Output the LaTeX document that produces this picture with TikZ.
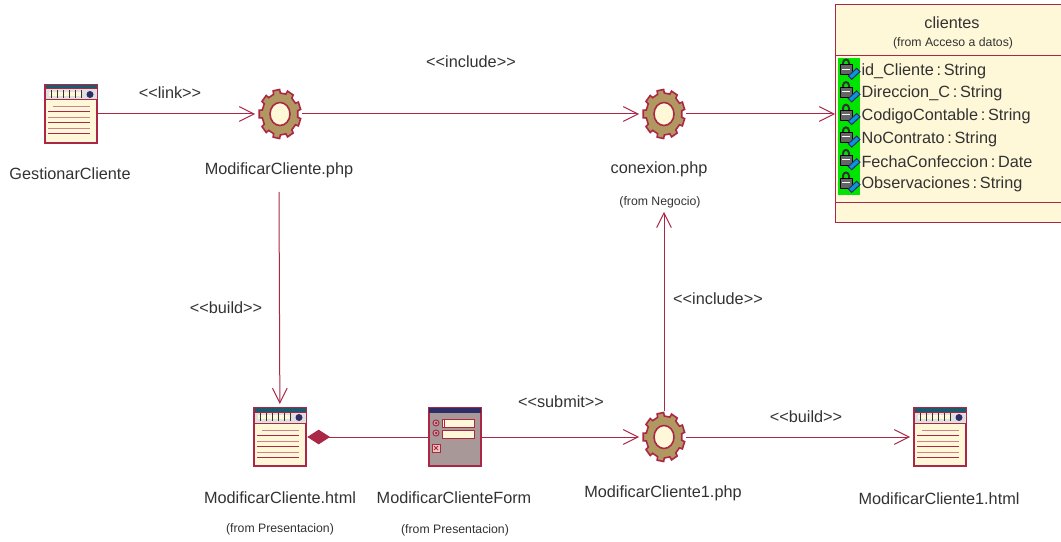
\documentclass[tikz,border=0pt]{standalone}
\usepackage{fontspec}
\setmainfont{Liberation Sans}
\usetikzlibrary{arrows.meta}
\definecolor{umlline}{RGB}{170,40,70}
\definecolor{umlfill}{RGB}{255,248,216}
\definecolor{umltext}{RGB}{50,50,50}
\definecolor{umlteal}{RGB}{30,90,110}
\definecolor{umlnavy}{RGB}{45,45,105}
\definecolor{umlgear}{RGB}{176,152,96}
\definecolor{umlform}{RGB}{168,152,152}
\definecolor{umlpink}{RGB}{205,130,140}
\tikzset{every picture/.style={line width=0.75pt}}
\tikzset{
  maintext/.style={inner sep=0.75pt,text=umltext,font=\fontsize{12.2}{14}\selectfont},
  smalltext/.style={inner sep=0.75pt,text=umltext,font=\fontsize{9.2}{11}\selectfont},
  attrtext/.style={maintext,anchor=west},
  pagebox/.style={inner sep=0pt,outer sep=1pt,minimum width=39pt,minimum height=43.5pt},
  gearbox/.style={inner sep=0pt,outer sep=1pt,minimum width=31.5pt,minimum height=36.75pt},
  conn/.style={draw=umlline},
  connarrow/.style={conn,-{Straight Barb[length=11pt,width=11pt]},shorten >=2pt},
  pics/pageicon/.style={code={
    \begin{scope}[yscale=-1]
    \draw [umlline,line width=1pt,fill=umlfill] (-26,-29) rectangle (26,29);
    \fill [umlteal] (-25.5,-29) rectangle (25.5,-25);
    \draw [umlline,fill=gray!25] (-26,-25) rectangle (26,-14);
    \fill [umlfill] (-22,-22) rectangle (11,-18);
    \foreach \t in {-20,-14,...,10} {\draw [umltext,line width=0.5pt] (\t,-24) -- (\t,-16);}
    \fill [umlnavy] (19,-19.5) circle (3.5);
    \foreach \t/\s/\c in {-7/-18/umlpink,-2/-23/umlline,4/-23/umlpink,9/-23/umlline,15/-23/umlpink,20/-23/umlline} {
      \draw [\c] (\s,\t) -- (19,\t);}
    \end{scope}
  }},
  pics/formicon/.style={code={
    \begin{scope}[yscale=-1]
    \draw [umlline,line width=1pt,fill=umlform] (-26,-29) rectangle (26,29);
    \fill [umlnavy] (-26,-29) rectangle (26,-24);
    \foreach \t in {-14,-4} {
      \draw [umlline,fill=umlform!70] (-19,\t) circle (3);
      \fill [umlline] (-19,\t) circle (1.5);}
    \draw [umlline,fill=umlfill] (-13,-18) rectangle (19,-10);
    \draw [umlline] (-11,-18) -- (-11,-10);
    \draw [umlline,fill=umlfill] (-13,-7) rectangle (19,1);
    \draw [umlline,fill=umlfill!60!umlpink] (-23,7) rectangle (-15,15);
    \draw [umlline] (-21,9) -- (-17,13) (-21,13) -- (-17,9);
    \end{scope}
  }},
  pics/gearicon/.style={code={
    \draw [umlline,line width=1.2pt,fill=umlgear] (9:18 and 21)
      \foreach \a in {0,40,...,320} {
        -- ({\a+9}:18 and 21) -- ({\a+11}:21 and 24.5) -- ({\a+29}:21 and 24.5) -- ({\a+31}:18 and 21)
      } -- cycle;
    \draw [umlline,line width=1.2pt,fill=umlfill] (0,0) ellipse (10 and 11.5);
  }},
  pics/lockicon/.style={code={
    \begin{scope}[yscale=-1]
    \fill [green!90!black] (-11,-11.5) rectangle (11,11.5);
    \draw [umltext,line width=1.5pt] (-6,-5) -- (-6,-7) arc (180:360:3 and 3.5) -- (0,-5);
    \draw [black,fill=umltext!75] (-9,-5) rectangle (3,5);
    \draw [white,line width=0.6pt] (-7,-1) -- (1,-1);
    \draw [umlnavy,fill=cyan!80!blue] (-0.7,6) -- (7.7,-1.7) -- (11,1.7) -- (2.7,9.3) -- cycle;
    \end{scope}
  }}
}
\begin{document}
\begin{tikzpicture}[x=0.75pt,y=0.75pt,yscale=-1,xscale=1]
\useasboundingbox (0,0) rectangle (1061,542);

% Icon Nodes
\node (gestionar) [pagebox] at (71,114) {};
\pic at (gestionar) {pageicon};
\node (modificarphp) [gearbox] at (280,114) {};
\pic at (modificarphp) {gearicon};
\node (conexion) [gearbox] at (664,114) {};
\pic at (conexion) {gearicon};
\node (modificarhtml) [pagebox] at (280,437) {};
\pic at (modificarhtml) {pageicon};
\node (modificarform) [pagebox] at (455,437) {};
\pic at (modificarform) {formicon};
\node (modificarunophp) [gearbox] at (664,437) {};
\pic at (modificarunophp) {gearicon};
\node (modificarunohtml) [pagebox] at (940,437) {};
\pic at (modificarunohtml) {pageicon};

% Class Box
\node (clientes) [draw=umlline,fill=umlfill,inner sep=0pt,outer sep=0pt,minimum width=172.5pt,minimum height=162.75pt,anchor=north west] at (835,5) {};
\draw [umlline] (835,56) -- (1062,56);
\draw [umlline] (835,202) -- (1062,202);
\foreach \y in {70,92.6,115.2,137.8,160.4,183} {
  \pic at (849,\y) {lockicon};
}

% Text Node
\node (gestionarlabel) [maintext] at (70,174) {GestionarCliente};
\node (modificarphplabel) [maintext] at (279,170) {ModificarCliente.php};
\node (conexionlabel) [maintext] at (659,169) {conexion.php};
\node (negociolabel) [smalltext] at (660,202) {(from Negocio)};
\node (modificarhtmllabel) [maintext] at (280,498) {ModificarCliente.html};
\node (presentaciona) [smalltext] at (280,529) {(from Presentacion)};
\node (modificarformlabel) [maintext] at (454,498) {ModificarClienteForm};
\node (presentacionb) [smalltext] at (455,530) {(from Presentacion)};
\node (modificarunophplabel) [maintext] at (663,493) {ModificarCliente1.php};
\node (modificarunohtmllabel) [maintext] at (939,499) {ModificarCliente1.html};
\node (clientesname) [maintext] at (952,23) {clientes};
\node (clientesfrom) [smalltext] at (953,43) {(from Acceso a datos)};
\node (attrid) [attrtext] at (860,71) {id\_Cliente\,:\,String};
\node (attrdir) [attrtext] at (860,93.6) {Direccion\_C\,:\,String};
\node (attrcod) [attrtext] at (860,116.2) {CodigoContable\,:\,String};
\node (attrcon) [attrtext] at (860,138.8) {NoContrato\,:\,String};
\node (attrfec) [attrtext] at (860,161.4) {FechaConfeccion\,:\,Date};
\node (attrobs) [attrtext] at (860,184) {Observaciones\,:\,String};

% Connector Labels
\node (linklabel) [maintext] at (170,93) {<{}<link>{}>};
\node (includea) [maintext] at (471,62) {<{}<include>{}>};
\node (builda) [maintext] at (226,308) {<{}<build>{}>};
\node (includeb) [maintext] at (718,299) {<{}<include>{}>};
\node (submitlabel) [maintext] at (561,402) {<{}<submit>{}>};
\node (buildb) [maintext] at (806,417) {<{}<build>{}>};

% Connectors
\draw [connarrow] (gestionar) -- (modificarphp);
\draw [connarrow] (modificarphp) -- (conexion);
\draw [connarrow,shorten >=0pt] (conexion) -- (clientes.west |- conexion);
\draw [connarrow] (modificarphplabel.south |- 0,192) -- (modificarhtml);
\draw [conn,-{Diamond[length=17pt,width=11pt]}] (modificarform) -- (modificarhtml);
\draw [connarrow] (modificarform) -- (modificarunophp);
\draw [connarrow] (modificarunophp) -- (conexion |- negociolabel.south);
\draw [connarrow] (modificarunophp) -- (modificarunohtml);

\end{tikzpicture}
\end{document}
